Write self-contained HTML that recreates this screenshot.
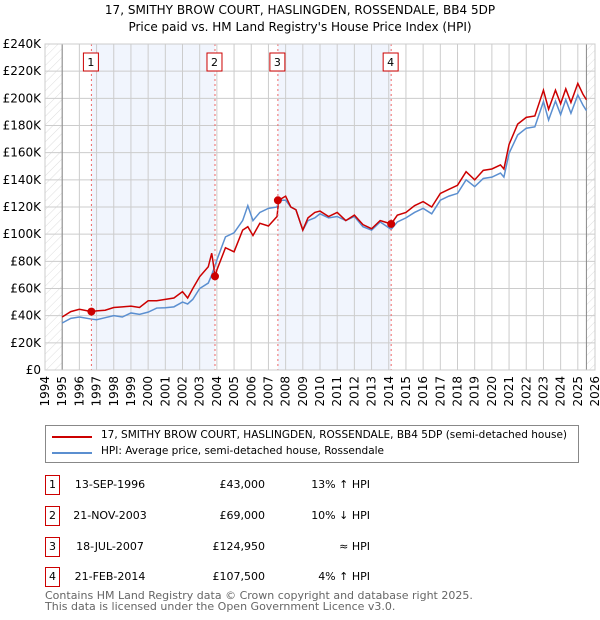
<!DOCTYPE html>
<html><head><meta charset="utf-8"><style>
body{margin:0;background:#fff;font-family:"DejaVu Sans","Liberation Sans",sans-serif;}
#wrap{position:relative;width:600px;height:620px;overflow:hidden;}
.t{position:absolute;white-space:nowrap;font-size:11px;color:#000;}
.box{position:absolute;width:13px;height:18px;border:1px solid #c00;font-size:11px;text-align:center;line-height:18px;}
svg text{font-family:"DejaVu Sans","Liberation Sans",sans-serif;}
</style></head><body><div id="wrap">
<div class="t" style="left:0;width:600px;text-align:center;top:3px;font-size:12px;">17, SMITHY BROW COURT, HASLINGDEN, ROSSENDALE, BB4 5DP</div>
<div class="t" style="left:0;width:600px;text-align:center;top:20px;font-size:12px;">Price paid vs. HM Land Registry's House Price Index (HPI)</div>
<svg id="chart" width="600" height="420" style="position:absolute;left:0;top:0">
<defs><pattern id="hatch" width="6" height="6" patternUnits="userSpaceOnUse" patternTransform="rotate(45)"><line x1="0" y1="0" x2="0" y2="6" stroke="#ddd" stroke-width="1"/></pattern></defs>
</svg>
<div style="position:absolute;left:45px;top:425px;width:532px;height:36px;border:1px solid #888;">
<div><div style="position:absolute;left:6px;top:10px;width:40px;height:2px;background:#c00"></div><div class="t" style="left:55px;top:3px;font-size:10.5px">17, SMITHY BROW COURT, HASLINGDEN, ROSSENDALE, BB4 5DP (semi-detached house)</div></div>
<div><div style="position:absolute;left:6px;top:26px;width:40px;height:2px;background:#5b8fd0"></div><div class="t" style="left:55px;top:19px;font-size:10.5px">HPI: Average price, semi-detached house, Rossendale</div></div>
</div>
<div id="table"></div>
<div class="t" style="left:45px;top:589px;color:#666;font-size:11px">Contains HM Land Registry data © Crown copyright and database right 2025.</div>
<div class="t" style="left:45px;top:600px;color:#666;font-size:11px">This data is licensed under the Open Government Licence v3.0.</div>
</div>
<script>
const dates=[1995,1995.5,1996,1996.7,1997,1997.5,1998,1998.5,1999,1999.5,2000,2000.5,2001,2001.5,2002,2002.3,2002.6,2003,2003.5,2003.7,2003.9,2004,2004.5,2005,2005.5,2005.8,2006.1,2006.5,2007,2007.5,2007.6,2008,2008.3,2008.6,2009,2009.3,2009.7,2010,2010.5,2011,2011.5,2012,2012.5,2013,2013.5,2014.14,2014.5,2015,2015.5,2016,2016.5,2017,2017.5,2018,2018.5,2019,2019.5,2020,2020.5,2020.7,2021,2021.5,2022,2022.5,2023,2023.3,2023.7,2024,2024.3,2024.6,2025,2025.3,2025.5];
const hpi=[34.6,38,39,37.5,37,38.5,40,39,42,41,42.6,45.6,45.8,46.5,50,48.6,52,60,64,70,77,81,98,101,110,121,110,116,119,120,125,125,120,118,103,110,112,115,112,113,110,113,105.5,103,109,103.5,109,112,116,119,115,125,128,130,140,135,141,142,145,142,159.5,173,178,179,197.6,184,198,188,199,189,202.5,195,191];
const price=[39,43,44.7,43,43.5,44,46,46.5,47,46,51,51,52,53,57.7,53,60,68.7,76,86,69,73.6,90,87,103,105.5,99,108,106,113,125,128,120,118,103,112,116,117,113,116,110,114,107,104,110,107.5,114,116,121,124,120,130,133,136,146,140,147,148,151,148,166,181,186,187,206,192,206,196,207,197,211,203,199];
const yTicks=[0,20,40,60,80,100,120,140,160,180,200,220,240];
const sales=[[1996.7,43,"13-SEP-1996","£43,000","13% ↑ HPI"],[2003.89,69,"21-NOV-2003","£69,000","10% ↓ HPI"],[2007.55,124.95,"18-JUL-2007","£124,950","≈ HPI"],[2014.14,107.5,"21-FEB-2014","£107,500","4% ↑ HPI"]];
const X=d=>45+(d-1994)*550/32, Y=v=>370-v*326/240;
const svg=document.getElementById('chart'),NS='http://www.w3.org/2000/svg';
function mk(t,a,name){const e=document.createElementNS(NS,t);for(const k in a)e.setAttribute(k,a[k]);


svg.appendChild(e);return e;}
mk('rect',{x:X(sales[0][0]),y:44,width:X(sales[1][0])-X(sales[0][0]),height:326,fill:'#eef3fc',opacity:0.8},'shade-band-1');
mk('rect',{x:X(sales[2][0]),y:44,width:X(sales[3][0])-X(sales[2][0]),height:326,fill:'#eef3fc',opacity:0.8},'shade-band-2');
mk('rect',{x:45,y:44,width:X(1995)-45,height:326,fill:'url(#hatch)'},'hatch-left');
mk('rect',{x:X(2025.5),y:44,width:595-X(2025.5),height:326,fill:'url(#hatch)'},'hatch-right');
for(let yr=1994;yr<=2026;yr++){mk('line',{x1:X(yr),x2:X(yr),y1:44,y2:370,stroke:'#ccc'},'grid-x');
const t=mk('text',{x:0,y:0,'font-size':12,'text-anchor':'end',transform:`translate(${X(yr)+4},376) rotate(-90)`},'x-tick-label');t.textContent=yr;}
yTicks.forEach(v=>{mk('line',{x1:45,x2:595,y1:Y(v),y2:Y(v),stroke:'#ccc'},'grid-y');
const t=mk('text',{x:41,y:Y(v)+4,'font-size':12,'text-anchor':'end'},'y-tick-label');t.textContent=v===0?'£0':'£'+v+'K';});
mk('line',{x1:X(1995),x2:X(1995),y1:44,y2:370,stroke:'#888'},'data-start');
mk('line',{x1:X(2025.5),x2:X(2025.5),y1:44,y2:370,stroke:'#888'},'data-end');
mk('polyline',{points:dates.map((d,i)=>X(d)+','+Y(hpi[i])).join(' '),fill:'none',stroke:'#5b8fd0','stroke-width':1.5},'hpi-line');
mk('polyline',{points:dates.map((d,i)=>X(d)+','+Y(price[i])).join(' '),fill:'none',stroke:'#c00','stroke-width':1.5},'price-line');
sales.forEach((s,i)=>{mk('line',{x1:X(s[0]),x2:X(s[0]),y1:44,y2:370,stroke:'#e66','stroke-dasharray':'2,3'},'sale-marker-line');
mk('circle',{cx:X(s[0]),cy:Y(s[1]),r:4,fill:'#c00'},'sale-point');
mk('rect',{x:X(s[0])-8,y:53,width:15,height:18,fill:'#fff',stroke:'#c00'},'sale-label-box');
const t=mk('text',{x:X(s[0])-0.5,y:66,'font-size':11,'text-anchor':'middle'},'sale-label');t.textContent=i+1;
const tb=document.getElementById('table'),top=[475,506,537,567][i];
const r=document.createElement('div');


r.innerHTML=`<div class="box" style="left:45px;top:${top}px">${i+1}</div><div class="t" style="left:60px;width:100px;text-align:center;top:${top+3}px">${s[2]}</div><div class="t" style="left:165px;width:100px;text-align:right;top:${top+3}px">${s[3]}</div><div class="t" style="left:270px;width:100px;text-align:right;top:${top+3}px">${s[4]}</div>`;
tb.appendChild(r);});
mk('rect',{x:45,y:44,width:550,height:326,fill:'none',stroke:'#ccc'},'plot-border');
</script></body></html>
